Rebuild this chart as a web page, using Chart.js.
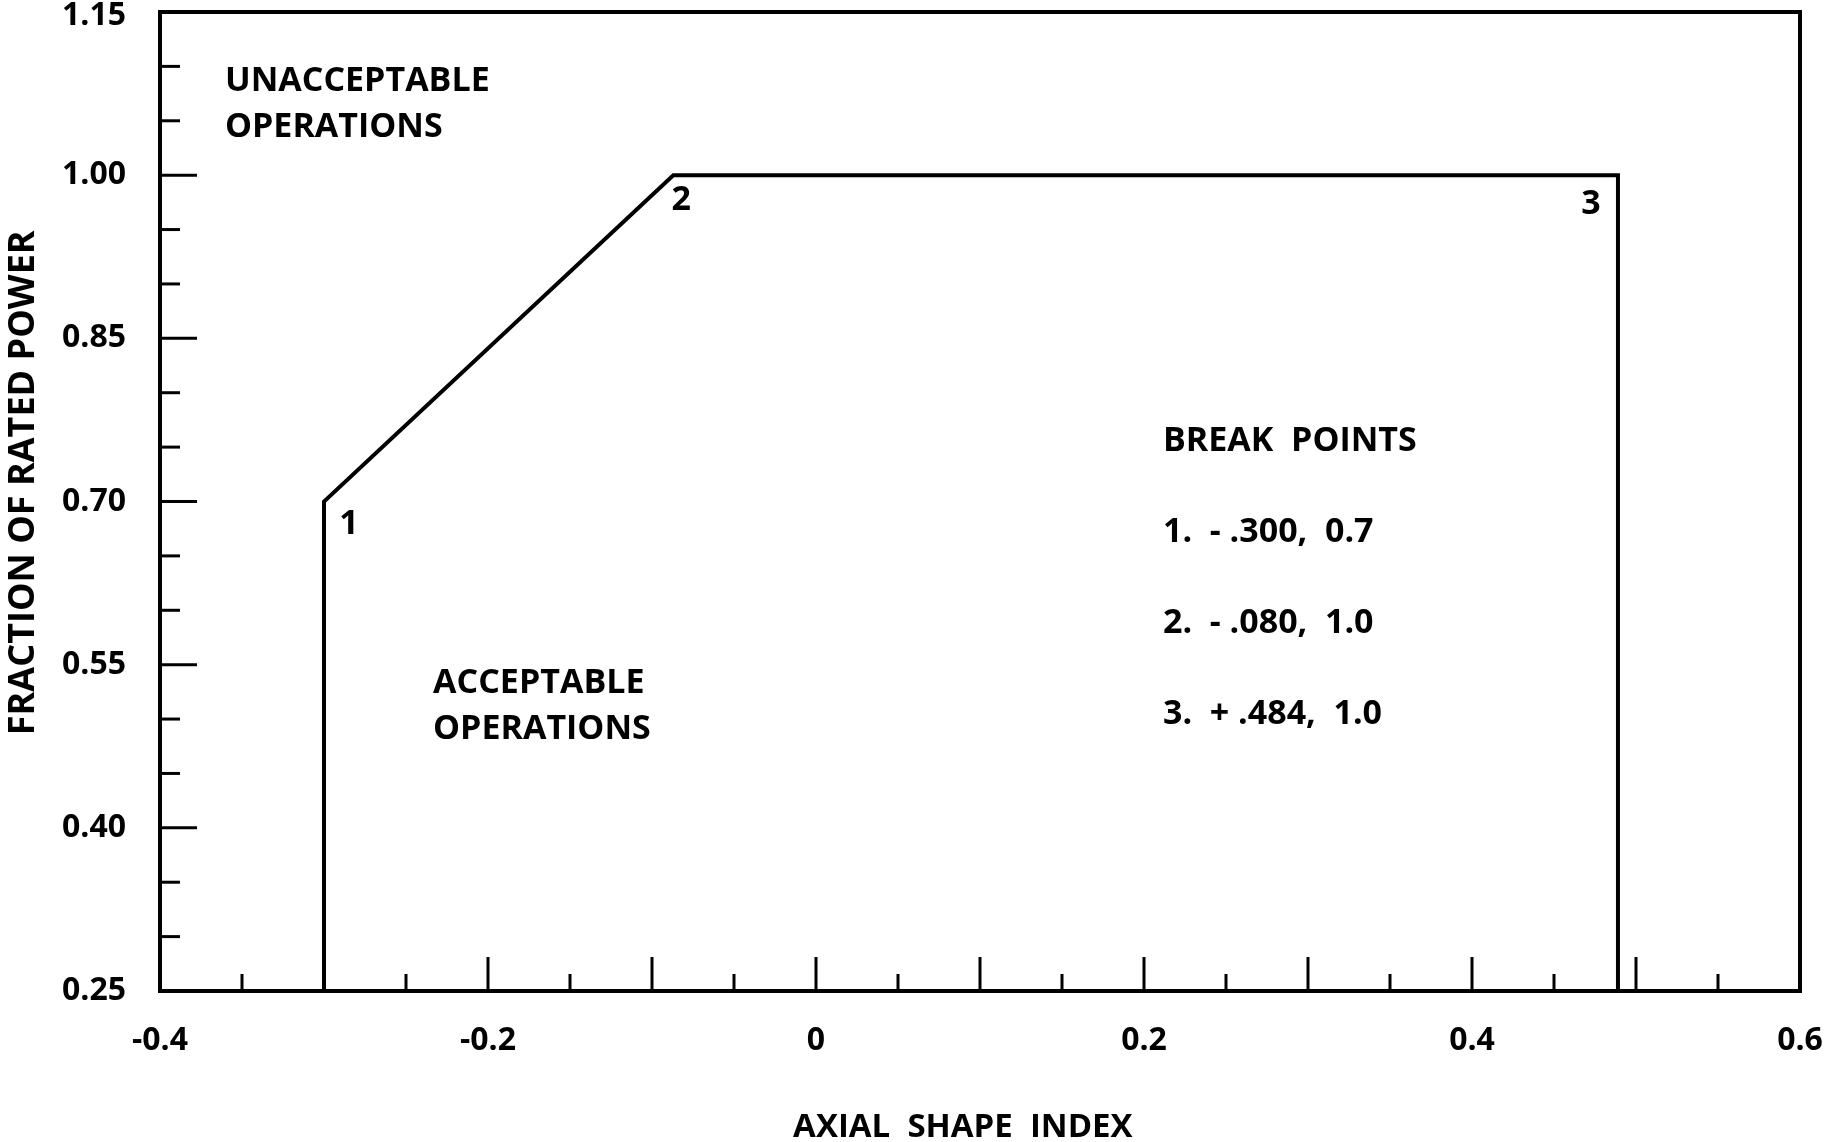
<!DOCTYPE html>
<html>
<head>
<meta charset="utf-8">
<script src="https://cdn.jsdelivr.net/npm/chart.js@4.4.0/dist/chart.umd.min.js"></script>
<style>
html, body { margin: 0; padding: 0; background: #fff; }
#wrap { width: 1825px; height: 1142px; }
</style>
</head>
<body>
<div id="wrap"><canvas id="myChart"></canvas></div>
<script>
// operating limit as drawn in the figure (break points 1, 2, 3 plus the two feet on the axis)
var limitX = [-0.300, -0.300, -0.087, 0.489, 0.489];
var limitY = [0.25, 0.70, 1.00, 1.00, 0.25];

// tick labels shown on each axis
var xTickLabels = ['-0.4', '-0.2', '0', '0.2', '0.4', '0.6'];
var yTickLabels = ['0.25', '0.40', '0.55', '0.70', '0.85', '1.00', '1.15'];

// texts written on the figure
var pointNames = ['1', '2', '3'];
var breakTitle = 'BREAK  POINTS';
var breakRows = ['1.  - .300,  0.7', '2.  - .080,  1.0', '3.  + .484,  1.0'];

var FONT = '"Open Sans", "Noto Sans", sans-serif';

function findLabel(list, value) {
    for (var i = 0; i < list.length; i++) {
        if (Math.abs(parseFloat(list[i]) - value) < 1e-6) return list[i];
    }
    return '';
}

var puntos = [];
for (var i = 0; i < limitX.length; i++) {
    puntos.push({x: limitX[i], y: limitY[i]});
}

// frame, inward ticks and the notes on the plot
var extras = {
    id: 'extras',
    beforeDraw: function(chart) {
        // keep the top y label (1.15) inside the canvas
        var items = chart.scales.y.getLabelItems();
        items.forEach(function(it) {
            if (it.options && it.options.translation && it.options.translation[1] < 16) {
                it.options.translation[1] = 16;
            }
        });
    },
    afterDatasetsDraw: function(chart) {
        var c = chart.ctx;
        var a = chart.chartArea;
        var sx = chart.scales.x;
        var sy = chart.scales.y;
        c.save();
        c.strokeStyle = '#000';
        c.fillStyle = '#000';
        c.lineCap = 'butt';

        c.lineWidth = 3;
        sx.ticks.forEach(function(t, i) {
            var px = sx.getPixelForValue(t.value);
            var len = (i % 2 == 0) ? 34 : 17;
            c.beginPath();
            c.moveTo(px, a.bottom);
            c.lineTo(px, a.bottom - len);
            c.stroke();
        });
        sy.ticks.forEach(function(t, i) {
            var py = sy.getPixelForValue(t.value);
            var len = (i % 3 == 0) ? 37 : 20;
            c.beginPath();
            c.moveTo(a.left, py);
            c.lineTo(a.left + len, py);
            c.stroke();
        });

        c.lineWidth = 4;
        c.strokeRect(a.left, a.top, a.right - a.left, a.bottom - a.top);

        c.font = 'bold 34px ' + FONT;
        c.textBaseline = 'middle';
        c.textAlign = 'left';

        // region names
        var ux = sx.getPixelForValue(-0.3604), uy = sy.getPixelForValue(1.0866);
        c.fillText('UNACCEPTABLE', ux, uy);
        c.fillText('OPERATIONS', ux, uy + 46);
        var ax = sx.getPixelForValue(-0.2335), ay = sy.getPixelForValue(0.533);
        c.fillText('ACCEPTABLE', ax, ay);
        c.fillText('OPERATIONS', ax, ay + 46);

        // break point table
        var bx = sx.getPixelForValue(0.2116), by = sy.getPixelForValue(0.7556);
        c.fillText(breakTitle, bx, by);
        breakRows.forEach(function(r, i) {
            c.fillText(r, bx, by + 91 * (i + 1));
        });

        // numbers next to the corners
        c.textAlign = 'center';
        var off = [[25, 23], [8, 25], [-27, 29]];
        for (var k = 0; k < pointNames.length; k++) {
            var p = puntos[k + 1];
            c.fillText(pointNames[k], sx.getPixelForValue(p.x) + off[k][0], sy.getPixelForValue(p.y) + off[k][1]);
        }
        c.restore();
    }
};

var ctx = document.getElementById('myChart').getContext('2d');
var myChart = new Chart(ctx, {
    type: 'scatter',
    data: {
        datasets: [{
            data: puntos,
            showLine: true,
            fill: false,
            borderColor: '#000',
            borderWidth: 4,
            pointRadius: 0,
            tension: 0
        }]
    },
    options: {
        responsive: true,
        maintainAspectRatio: false,
        animation: false,
        layout: {
            autoPadding: false,
            padding: {top: 12, right: 25, bottom: 0, left: 0}
        },
        plugins: {
            legend: {display: false},
            tooltip: {enabled: false}
        },
        scales: {
            x: {
                type: 'linear',
                min: -0.4,
                max: 0.6,
                grid: {display: false},
                border: {display: false},
                afterFit: function(s) {
                    s.height = 151;
                    s.paddingLeft = 0;
                    s.paddingRight = 0;
                },
                ticks: {
                    stepSize: 0.05,
                    autoSkip: false,
                    maxRotation: 0,
                    padding: 23,
                    color: '#000',
                    font: {family: FONT, size: 32, weight: 'bold'},
                    callback: function(v) { return findLabel(xTickLabels, v); }
                },
                title: {
                    display: true,
                    // trailing spaces move the title a little left, as in the figure
                    text: 'AXIAL  SHAPE  INDEX    ',
                    color: '#000',
                    font: {family: FONT, size: 33, weight: 'bold'},
                    padding: {top: 0, bottom: -5}
                }
            },
            y: {
                type: 'linear',
                min: 0.25,
                max: 1.15,
                grid: {display: false},
                border: {display: false},
                afterFit: function(s) {
                    s.width = 160;
                    s.paddingTop = 0;
                    s.paddingBottom = 0;
                },
                ticks: {
                    stepSize: 0.05,
                    autoSkip: false,
                    padding: 26,
                    color: '#000',
                    font: {family: FONT, size: 32, weight: 'bold'},
                    callback: function(v) { return findLabel(yTickLabels, v); }
                },
                title: {
                    display: true,
                    text: '    FRACTION OF RATED POWER',
                    color: '#000',
                    font: {family: FONT, size: 36, weight: 'bold'},
                    padding: {top: 2, bottom: 0}
                }
            }
        }
    },
    plugins: [extras]
});
</script>
</body>
</html>
